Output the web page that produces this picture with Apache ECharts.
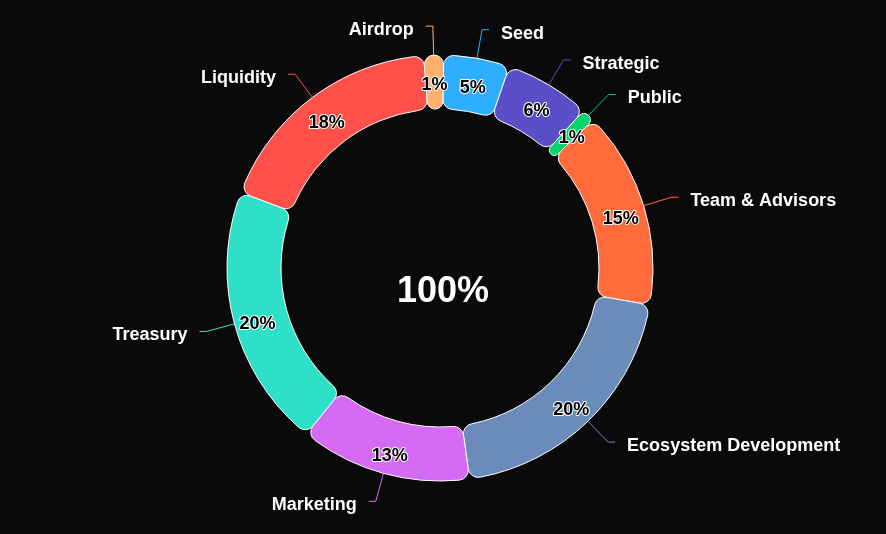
<!DOCTYPE html>
<html>
<head>
<meta charset="utf-8">
<style>
  html, body { margin: 0; padding: 0; background: #0a0a0a; }
  #chart { width: 886px; height: 534px; }
</style>
<script src="https://cdn.jsdelivr.net/npm/echarts@6/dist/echarts.min.js"></script>
</head>
<body>
<div id="chart"></div>
<script>
const categories = ['Seed', 'Strategic', 'Public', 'Team & Advisors', 'Ecosystem Development', 'Marketing', 'Treasury', 'Liquidity', 'Airdrop'];
const values = [5, 6.5, 1, 15, 20, 13, 20, 18, 1.5];
const colors = ['#2FAEFF', '#5A4FC8', '#00D46A', '#FF6B3B', '#6B8CBA', '#D56AF5', '#2FE0C8', '#FF5049', '#FFB06E'];
const centerText = '100%';

const FONT = 'Liberation Sans, Arial, sans-serif';
const data = categories.map((name, i) => ({ name: name, value: values[i] }));

const chart = echarts.init(document.getElementById('chart'));
chart.setOption({
  backgroundColor: '#0a0a0a',
  color: colors,
  animation: false,
  title: {
    text: centerText,
    left: 'center',
    top: 269,
    textStyle: { color: '#fff', fontSize: 36, fontWeight: 'bold', fontFamily: FONT }
  },
  series: [
    {
      type: 'pie',
      center: [440, 268],
      radius: [159, 213],
      startAngle: 89,
      clockwise: true,
      itemStyle: { borderRadius: 10, borderColor: '#fff', borderWidth: 1 },
      label: {
        show: true,
        position: 'outside',
        formatter: '{b}',
        color: '#fff',
        fontSize: 18,
        fontWeight: 'bold',
        fontFamily: FONT,
        offset: [0, 4],
        distanceToLabelLine: 12
      },
      labelLine: { show: true, length: 29, length2: 7, lineStyle: { width: 1 } },
      data: data
    },
    {
      type: 'pie',
      z: 5,
      silent: true,
      center: [440, 268],
      radius: [159, 213],
      startAngle: 89,
      clockwise: true,
      itemStyle: { color: 'rgba(0,0,0,0)', borderWidth: 0 },
      label: {
        show: true,
        position: 'inside',
        offset: [0, 6],
        formatter: p => Math.floor(p.percent) + '%',
        color: '#000',
        textBorderColor: '#fff',
        textBorderWidth: 2,
        fontSize: 18,
        fontWeight: 'bold',
        fontFamily: FONT
      },
      labelLine: { show: false },
      data: data
    }
  ]
});
</script>
</body>
</html>
